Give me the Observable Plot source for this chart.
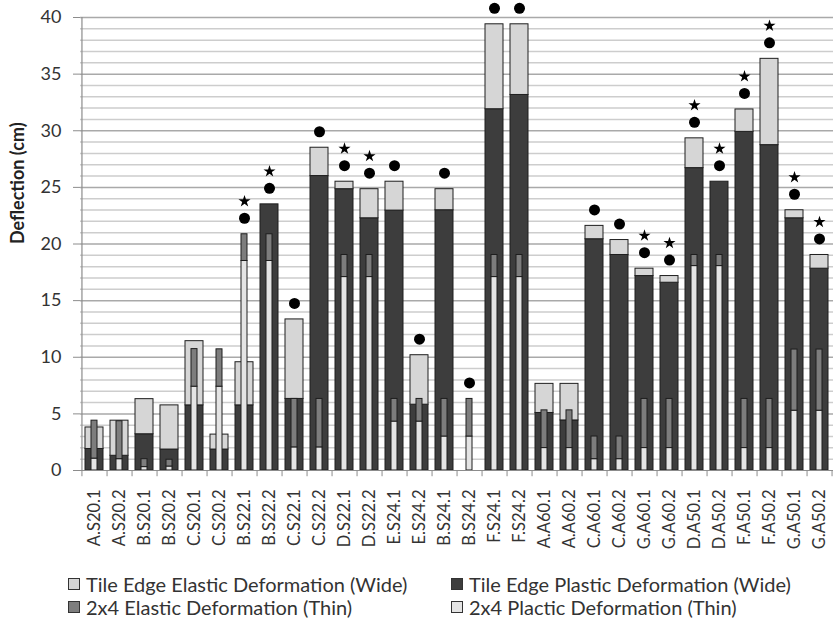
<!DOCTYPE html>
<html>
<head>
<meta charset="utf-8">
<script src="https://cdn.jsdelivr.net/npm/d3@7"></script>
<script src="https://cdn.jsdelivr.net/npm/@observablehq/plot@0.6"></script>
<style>
  body { margin: 0; background: #fff; font-family: Lato, "Open Sans", sans-serif; }
  #wrap { width: 833px; }
  #legend { position: relative; width: 833px; height: 62px; font-size: 20px; color: #333; }
  .item { position: absolute; display: flex; align-items: center; height: 22px; white-space: nowrap; }
  .sw { width: 12px; height: 12px; border: 1px solid #333; margin-right: 6px; box-sizing: border-box; }
</style>
</head>
<body>
<div id="wrap">
  <div id="chart"></div>
  <div id="legend"></div>
</div>
<script>
const categories = ["A.S20.1","A.S20.2","B.S20.1","B.S20.2","C.S20.1","C.S20.2","B.S22.1","B.S22.2","C.S22.1","C.S22.2",
  "D.S22.1","D.S22.2","E.S24.1","E.S24.2","B.S24.1","B.S24.2","F.S24.1","F.S24.2","A.A60.1","A.A60.2",
  "C.A60.1","C.A60.2","G.A60.1","G.A60.2","D.A50.1","D.A50.2","F.A50.1","F.A50.2","G.A50.1","G.A50.2"];
// Tile edge (wide bars)
const widePlastic = [1.9,1.3,3.2,1.85,5.75,1.85,5.75,23.5,6.32,26.0,
  24.84,22.27,22.95,5.81,22.98,0,31.9,33.16,5.08,4.42,
  20.42,19.03,17.17,16.58,26.7,25.5,29.9,28.73,22.27,17.82];
const wideElastic = [1.9,3.1,3.1,3.9,5.67,1.32,3.81,0,7.02,2.5,
  0.66,2.57,2.55,4.37,1.86,0,7.5,6.24,2.57,3.23,
  1.18,1.32,0.65,0.59,2.63,0,1.98,7.62,0.71,1.21];
// 2x4 (thin bars)
const thinPlastic = [1.05,1.0,0.3,0.35,7.4,7.4,18.5,18.5,2.04,2.04,
  17.08,17.08,4.32,4.32,3.0,3.0,17.08,17.08,1.98,1.98,
  1.0,1.0,1.98,1.98,18.05,18.05,1.98,1.98,5.28,5.28];
const thinElastic = [3.35,3.35,0.7,0.6,3.32,3.3,2.36,2.36,4.28,4.28,
  1.95,1.95,2.0,2.0,3.32,3.32,1.95,1.95,3.33,3.33,
  2.0,2.0,4.34,4.34,0.98,0.98,4.34,4.34,5.4,5.4];
// markers above bars
const circleMark = [0,0,0,0,0,0,1,1,1,1, 1,1,1,1,1,1,1,1,0,0, 1,1,1,1,1,1,1,1,1,1];
const starMark   = [0,0,0,0,0,0,1,1,0,0, 1,1,0,0,0,0,0,0,0,0, 0,0,1,1,1,1,1,1,1,1];
const yTicks = [0,5,10,15,20,25,30,35,40];
const legendLabels = ["Tile Edge Elastic Deformation (Wide)","Tile Edge Plastic Deformation (Wide)",
  "2x4 Elastic Deformation (Thin)","2x4 Plactic Deformation (Thin)"];
const colors = {wideElastic:"#d6d6d6", widePlastic:"#3d3d3d", thinElastic:"#7d7d7d", thinPlastic:"#e4e4e4"};

const rows = categories.map((c, i) => ({
  c, wp: widePlastic[i], we: wideElastic[i], tp: thinPlastic[i], te: thinElastic[i],
  top: Math.max(widePlastic[i] + wideElastic[i], thinPlastic[i] + thinElastic[i]),
  circle: circleMark[i], star: starMark[i]
}));

const W = 833, H = 560, ML = 80, MR = 0;
const halfStep = (W - ML - MR) / categories.length / 2;
const edge = "#1e1e1e";

const chart = Plot.plot({
  width: W, height: H,
  marginLeft: ML, marginRight: MR, marginTop: 17, marginBottom: 90,
  style: {fontFamily: "Lato, 'Open Sans', sans-serif", color: "#333", background: "#fff"},
  x: {type: "band", domain: categories, paddingInner: 0.28, paddingOuter: 0.14, axis: null},
  y: {domain: [0, 40], axis: null},
  marks: [
    Plot.ruleY(d3.range(1, 41).filter(v => v % 5 !== 0), {stroke: "#cdcdcd", strokeWidth: 1.5}),
    Plot.ruleY(d3.range(5, 41, 5), {stroke: "#a9a9a9", strokeWidth: 1.5}),
    Plot.barY(rows.filter(d => d.wp > 0), {x: "c", y1: 0, y2: "wp", fill: colors.widePlastic, stroke: edge, strokeWidth: 1}),
    Plot.barY(rows.filter(d => d.we > 0), {x: "c", y1: "wp", y2: d => d.wp + d.we, fill: colors.wideElastic, stroke: edge, strokeWidth: 1}),
    Plot.barY(rows.filter(d => d.tp > 0), {x: "c", y1: 0, y2: "tp", insetLeft: 6, insetRight: 6, fill: colors.thinPlastic, stroke: edge, strokeWidth: 1}),
    Plot.barY(rows.filter(d => d.te > 0), {x: "c", y1: "tp", y2: d => d.tp + d.te, insetLeft: 6, insetRight: 6, fill: colors.thinElastic, stroke: edge, strokeWidth: 1}),
    Plot.ruleY([0], {stroke: "#8c8c8c", strokeWidth: 1.2}),
    Plot.ruleX([categories[0]], {dx: -halfStep, y1: 0, y2: 40, stroke: "#8c8c8c", strokeWidth: 1.2}),
    Plot.ruleX(categories, {dx: halfStep, y1: 0, y2: -0.55, stroke: "#8c8c8c"}),
    Plot.ruleX([categories[0]], {dx: -halfStep, y1: 0, y2: -0.55, stroke: "#8c8c8c"}),
    Plot.axisY({ticks: yTicks, tickSize: 7, tickPadding: 12, fontSize: 18, label: null, stroke: "#8c8c8c", fill: "#333"}),
    Plot.axisX({tickSize: 0, tickRotate: -90, tickPadding: 19, fontSize: 16.5, label: null, fill: "#333"}),
    Plot.text(["Deflection (cm)"], {text: d => d, frameAnchor: "left", rotate: -90, dx: -62, fontSize: 18, fontWeight: "bold", fill: "#222"}),
    Plot.dot(rows.filter(d => d.circle), {x: "c", y: "top", r: 5.5, fill: "#000", stroke: null, dy: -16}),
    Plot.dot(rows.filter(d => d.star), {x: "c", y: "top", r: 3.8, symbol: "star", fill: "#000", stroke: null, dy: -33})
  ]
});
document.getElementById("chart").appendChild(chart);

const legendItems = [
  {label: legendLabels[0], color: colors.wideElastic, left: 68, top: 13},
  {label: legendLabels[1], color: colors.widePlastic, left: 451, top: 13},
  {label: legendLabels[2], color: colors.thinElastic, left: 68, top: 36},
  {label: legendLabels[3], color: colors.thinPlastic, left: 451, top: 36}
];
const legend = document.getElementById("legend");
for (const it of legendItems) {
  const div = document.createElement("div");
  div.className = "item";
  div.style.left = it.left + "px";
  div.style.top = it.top + "px";
  const sw = document.createElement("span");
  sw.className = "sw";
  sw.style.background = it.color;
  const tx = document.createElement("span");
  tx.textContent = it.label;
  div.appendChild(sw);
  div.appendChild(tx);
  legend.appendChild(div);
}
</script>
</body>
</html>
